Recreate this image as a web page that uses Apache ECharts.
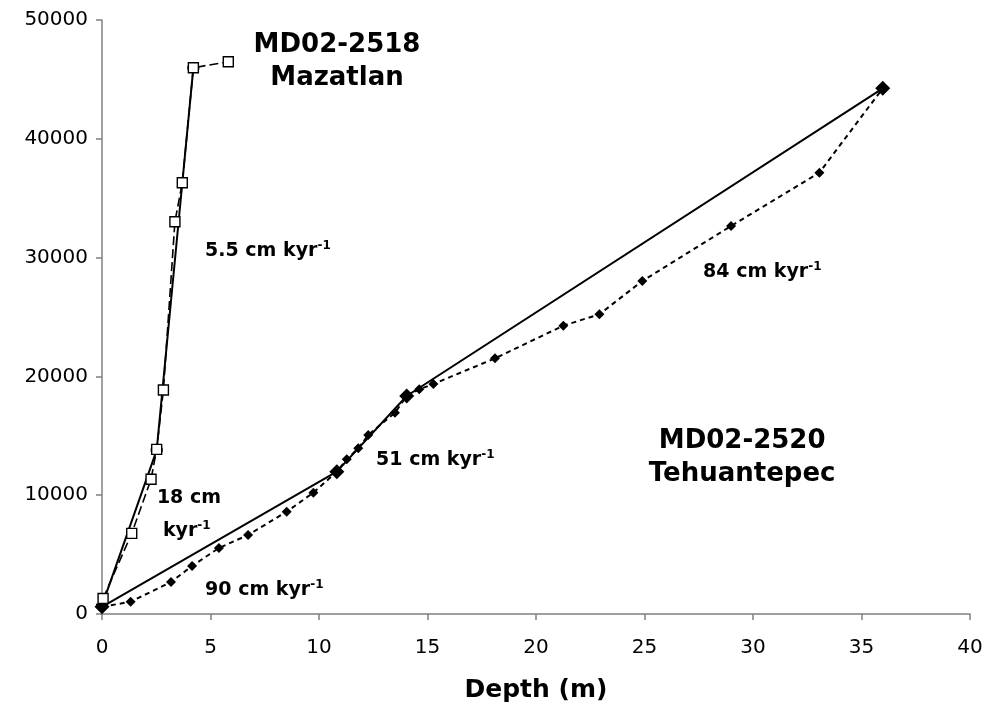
<!DOCTYPE html>
<html>
<head>
<meta charset="utf-8">
<script src="https://cdn.jsdelivr.net/npm/echarts@6/dist/echarts.min.js"></script>
<style>
html,body{margin:0;padding:0;background:#fff;}
#chart{width:989px;height:709px;}
</style>
</head>
<body>
<div id="chart"></div>
<script>
// ---- Data (depth in m, age in years) ----
var xTicks = [0, 5, 10, 15, 20, 25, 30, 35, 40];
var yTicks = [0, 10000, 20000, 30000, 40000, 50000];

// MD02-2518 Mazatlan: dated samples
var mazDepth = [0.05, 1.37, 2.26, 2.52, 2.83, 3.36, 3.70, 4.21, 5.82];
var mazAge   = [1300, 6790, 11340, 13860, 18860, 33020, 36300, 45980, 46490];
// MD02-2518 Mazatlan: age model tie points
var mazModelDepth = [0, 2.52, 4.21];
var mazModelAge   = [700, 13800, 45980];

// MD02-2520 Tehuantepec: dated samples
var tehDepth = [0, 1.32, 3.18, 4.15, 5.39, 6.73, 8.51, 9.74, 10.82, 11.28, 11.81, 12.27, 13.50, 14.04, 14.62, 15.27, 18.11, 21.26, 22.92, 24.90, 28.99, 33.06, 35.98];
var tehAge   = [600, 1035, 2690, 4040, 5560, 6650, 8610, 10210, 11980, 13020, 13950, 15070, 16940, 18350, 18910, 19360, 21520, 24270, 25230, 28030, 32660, 37150, 44250];
// MD02-2520 Tehuantepec: age model tie points
var tehModelDepth = [0, 10.82, 14.04, 35.98];
var tehModelAge   = [600, 11980, 18350, 44250];

// Annotations
var annotText = ['MD02-2518|Mazatlan', 'MD02-2520|Tehuantepec', '5.5 cm kyr^-1', '18 cm', 'kyr^-1', '90 cm kyr^-1', '51 cm kyr^-1', '84 cm kyr^-1'];
var annotX    = [10.83, 29.5, 4.75, 2.53, 2.81, 4.75, 12.63, 27.7];
var annotY    = [46460, 13150, 30560, 9760, 6990, 2020, 12960, 28790];

var xName = 'Depth (m)';

function zip(a, b) { return a.map(function (v, i) { return [v, b[i]]; }); }

var FONT = 'DejaVu Sans';

var annotData = annotText.map(function (t, i) {
  var big = t.indexOf('|') >= 0;
  var f;
  if (big) {
    f = t.split('|').map(function (s) { return '{t|' + s + '}'; }).join('\n');
  } else {
    var p = t.split('^');
    f = '{b|' + p[0] + '}' + (p[1] ? '{s|' + p[1] + '}' : '');
  }
  return {
    value: [annotX[i], annotY[i]],
    label: { formatter: f, align: big ? 'center' : 'left' }
  };
});

var chart = echarts.init(document.getElementById('chart'), null, { renderer: 'canvas' });
var axisCommon = {
  axisLine: { show: true, lineStyle: { color: '#808080', width: 1.5 } },
  axisTick: { show: true, inside: false, length: 6, lineStyle: { color: '#808080', width: 1.5 } },
  splitLine: { show: false },
  axisLabel: { color: '#000', fontFamily: FONT, fontSize: 20, formatter: function (v) { return String(v); } }
};
chart.setOption({
  animation: false,
  backgroundColor: '#fff',
  grid: { left: 102, right: 19, top: 20, bottom: 95, containLabel: false },
  xAxis: Object.assign({}, axisCommon, {
    type: 'value', min: xTicks[0], max: xTicks[xTicks.length - 1], interval: 5,
    name: xName, nameLocation: 'middle', nameGap: 64,
    nameTextStyle: { color: '#000', fontFamily: FONT, fontSize: 25, fontWeight: 'bold' },
    axisLabel: Object.assign({}, axisCommon.axisLabel, { margin: 24 })
  }),
  yAxis: Object.assign({}, axisCommon, {
    type: 'value', min: yTicks[0], max: yTicks[yTicks.length - 1], interval: 10000,
    axisLabel: Object.assign({}, axisCommon.axisLabel, { margin: 14 })
  }),
  series: [
    {
      name: 'Tehuantepec model', type: 'line', data: zip(tehModelDepth, tehModelAge),
      lineStyle: { color: '#000', width: 2 },
      symbol: 'diamond', symbolSize: 15, itemStyle: { color: '#000' }, z: 2
    },
    {
      name: 'Tehuantepec data', type: 'line', data: zip(tehDepth, tehAge),
      lineStyle: { color: '#000', width: 2, type: [5, 4] },
      symbol: 'diamond', symbolSize: 10, itemStyle: { color: '#000' }, z: 3
    },
    {
      name: 'Mazatlan model', type: 'line', data: zip(mazModelDepth, mazModelAge),
      lineStyle: { color: '#000', width: 2 },
      symbol: 'rect', symbolSize: [12, 4], itemStyle: { color: '#000' }, z: 3
    },
    {
      name: 'Mazatlan data', type: 'line', data: zip(mazDepth, mazAge),
      lineStyle: { color: '#000', width: 1.6, type: [9, 4] },
      symbol: 'rect', symbolSize: 10,
      itemStyle: { color: '#fff', borderColor: '#000', borderWidth: 1.4 }, z: 4
    },
    {
      name: 'labels', type: 'scatter', data: annotData, symbolSize: 0, silent: true, z: 10,
      itemStyle: { opacity: 1 },
      label: {
        show: true, position: 'inside', verticalAlign: 'middle', color: '#000', opacity: 1,
        rich: {
          t: { fontFamily: FONT, fontSize: 26, fontWeight: 'bold', color: '#000', lineHeight: 33 },
          b: { fontFamily: FONT, fontSize: 19, fontWeight: 'bold', color: '#000', lineHeight: 22 },
          s: { fontFamily: FONT, fontSize: 12, fontWeight: 'bold', color: '#000', lineHeight: 9, verticalAlign: 'top' }
        }
      }
    }
  ]
});
</script>
</body>
</html>
